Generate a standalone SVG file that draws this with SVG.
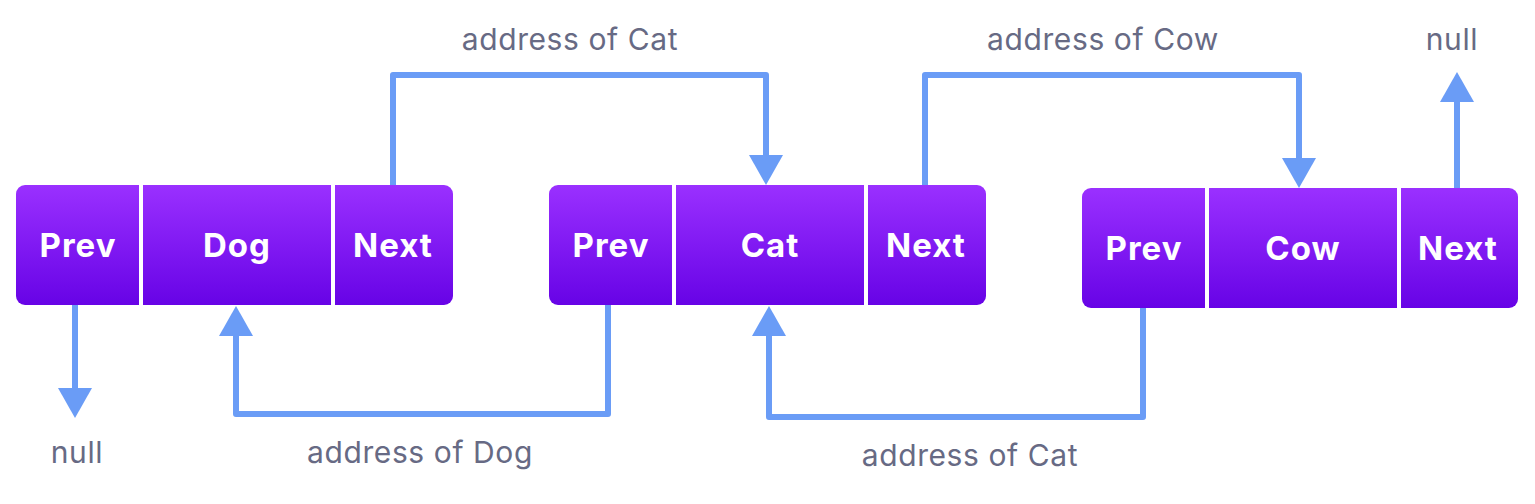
<svg xmlns="http://www.w3.org/2000/svg" width="1535" height="504" viewBox="0 0 1535 504">
<defs>
<linearGradient id="g" x1="0" y1="0" x2="0" y2="1">
<stop offset="0" stop-color="#9a30ff"/>
<stop offset="1" stop-color="#6703e6"/>
</linearGradient>
<marker id="ah" viewBox="0 0 30 34" refX="0" refY="17" markerWidth="30" markerHeight="34" markerUnits="userSpaceOnUse" orient="auto">
<path d="M0,0 L30,17 L0,34 Z" fill="#6a9cf6"/>
</marker>
<style>
.box{fill:url(#g)}
.div{stroke:#ffffff;stroke-width:4}
.nl{font-family:Inter,"Liberation Sans",sans-serif;font-weight:700;font-size:33px;letter-spacing:1px;fill:#ffffff;text-anchor:middle;dominant-baseline:central}
.lb{font-family:Inter,"Liberation Sans",sans-serif;font-size:30px;letter-spacing:0.6px;fill:#676a84;text-anchor:middle}
.c{fill:none;stroke:#6a9cf6;stroke-width:6;stroke-linejoin:round;marker-end:url(#ah)}
</style>
</defs>
<rect width="1535" height="504" fill="#ffffff"/>
<g id="connectors">
<path class="c" d="M393,185 V75 H766 V155"/>
<path class="c" d="M925,185 V75 H1299 V158"/>
<path class="c" d="M1457,188 V102"/>
<path class="c" d="M75,305 V388"/>
<path class="c" d="M608,305 V414 H236 V336"/>
<path class="c" d="M1143,308 V417 H769 V336"/>
</g>
<g id="node-dog">
<rect class="box" x="16" y="185" width="437" height="120" rx="9"/>
<line class="div" x1="141" y1="185" x2="141" y2="305"/>
<line class="div" x1="333" y1="185" x2="333" y2="305"/>
<text class="nl" x="78" y="245">Prev</text>
<text class="nl" x="237" y="245">Dog</text>
<text class="nl" x="393" y="245">Next</text>
</g>
<g id="node-cat">
<rect class="box" x="549" y="185" width="437" height="120" rx="9"/>
<line class="div" x1="674" y1="185" x2="674" y2="305"/>
<line class="div" x1="866" y1="185" x2="866" y2="305"/>
<text class="nl" x="611" y="245">Prev</text>
<text class="nl" x="770" y="245">Cat</text>
<text class="nl" x="926" y="245">Next</text>
</g>
<g id="node-cow">
<rect class="box" x="1082" y="188" width="436" height="120" rx="9"/>
<line class="div" x1="1207" y1="188" x2="1207" y2="308"/>
<line class="div" x1="1399" y1="188" x2="1399" y2="308"/>
<text class="nl" x="1144" y="248">Prev</text>
<text class="nl" x="1303" y="248">Cow</text>
<text class="nl" x="1458" y="248">Next</text>
</g>
<g id="labels">
<text class="lb" x="570" y="50">address of Cat</text>
<text class="lb" x="1103" y="50">address of Cow</text>
<text class="lb" x="1452" y="50">null</text>
<text class="lb" x="77" y="463">null</text>
<text class="lb" x="420" y="463">address of Dog</text>
<text class="lb" x="970" y="466">address of Cat</text>
</g>
</svg>
